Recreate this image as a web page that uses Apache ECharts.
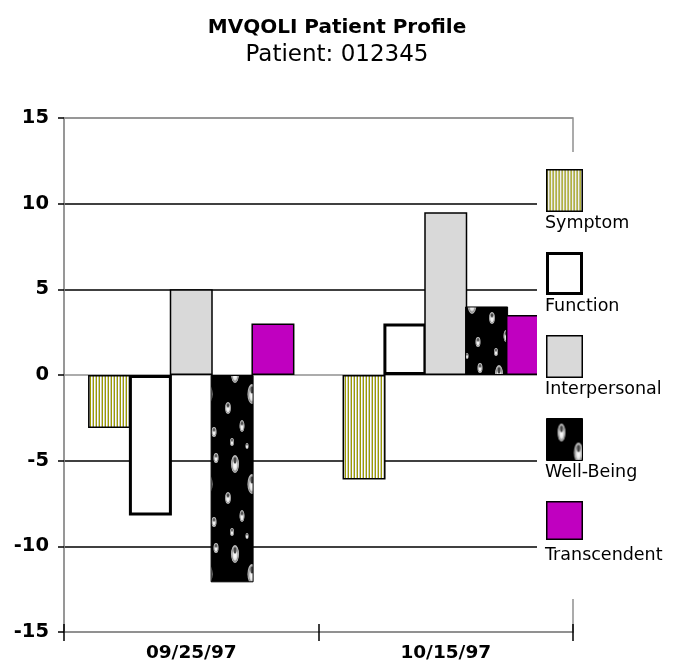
<!DOCTYPE html>
<html>
<head>
<meta charset="utf-8">
<script src="https://cdn.jsdelivr.net/npm/echarts@6/dist/echarts.min.js"></script>
<style>html,body{margin:0;padding:0;background:#fff;}#c{width:674px;height:666px;}</style>
</head>
<body>
<div id="c"></div>
<script>
const categories = ['09/25/97', '10/15/97'];
const seriesNames = ['Symptom', 'Function', 'Interpersonal', 'Well-Being', 'Transcendent'];
const symptom = [-3.1, -6.1];
const functionVals = [-8.2, 3.0];
const interpersonal = [5.0, 9.5];
const wellBeing = [-12.1, 4.0];
const transcendent = [3.0, 3.5];
const yTicks = [-15, -10, -5, 0, 5, 10, 15];

const FONT = '"DejaVu Sans", Verdana, sans-serif';

function stripePattern() {
  const c = document.createElement('canvas');
  c.width = 3; c.height = 4;
  const g = c.getContext('2d');
  g.fillStyle = '#9c9c00'; g.fillRect(0, 0, 1, 4);
  g.fillStyle = '#ffffff'; g.fillRect(1, 0, 1, 4);
  g.fillStyle = '#c8c8b8'; g.fillRect(2, 0, 1, 4);
  return { image: c, repeat: 'repeat' };
}
function bubblePattern() {
  const c = document.createElement('canvas');
  c.width = 44; c.height = 90;
  const g = c.getContext('2d');
  g.fillStyle = '#000'; g.fillRect(0, 0, 44, 90);
  const bubbles = [[15, 14, 4, 9], [32, 34, 4.5, 10], [8, 48, 3, 6], [22, 66, 2.5, 6], [38, 72, 2.5, 5], [12, 82, 2, 4], [40, 8, 2.5, 5], [27, 86, 1.5, 3]];
  bubbles.forEach(b => {
    const [x, y, rx, ry] = b;
    g.save();
    g.translate(x, y);
    g.scale(rx / ry, 1);
    const grd = g.createRadialGradient(0, ry * 0.25, 0, 0, 0, ry);
    grd.addColorStop(0, '#ffffff');
    grd.addColorStop(0.5, '#e0e0e0');
    grd.addColorStop(0.75, '#909090');
    grd.addColorStop(1, 'rgba(230,230,230,0.9)');
    g.fillStyle = grd;
    g.beginPath(); g.arc(0, 0, ry, 0, Math.PI * 2); g.fill();
    g.fillStyle = '#444';
    g.beginPath(); g.arc(0, -ry * 0.4, ry * 0.35, 0, Math.PI * 2); g.fill();
    g.restore();
  });
  return { image: c, repeat: 'repeat' };
}

const fills = [stripePattern(), '#ffffff', '#d9d9d9', bubblePattern(), '#c000c0'];
const borders = [1.5, 3, 1.5, 1, 1.5];
const dataArrays = [symptom, functionVals, interpersonal, wellBeing, transcendent];

const series = seriesNames.map((name, i) => ({
  name: name,
  type: 'bar',
  data: dataArrays[i],
  barWidth: 43,
  barGap: '-5%',
  itemStyle: { color: fills[i], borderColor: '#000', borderWidth: borders[i] },
  emphasis: { disabled: true },
  animation: false
}));

// legend drawn as graphics built from seriesNames
const legendGraphics = [{
  type: 'rect', left: 537, top: 152, z: 100,
  shape: { width: 137, height: 447 },
  style: { fill: '#ffffff' }
}];
seriesNames.forEach((name, i) => {
  const top = 169 + i * 83;
  const bw = borders[i];
  legendGraphics.push({
    type: 'rect', z: 101,
    x: 546 + bw / 2, y: top + bw / 2,
    shape: { width: 37 - bw, height: (i === 4 ? 39 : 43) - bw },
    style: { fill: fills[i], stroke: '#000', lineWidth: bw }
  });
  legendGraphics.push({
    type: 'text', z: 101,
    x: 545, y: top + 54,
    style: { text: name, font: '17.5px ' + FONT, fill: '#000', textVerticalAlign: 'middle', verticalAlign: 'middle' }
  });
});

const chart = echarts.init(document.getElementById('c'), null, { renderer: 'canvas' });
chart.setOption({
  animation: false,
  backgroundColor: '#fff',
  title: {
    text: 'MVQOLI Patient Profile',
    subtext: 'Patient: 012345',
    left: 'center',
    top: 13,
    itemGap: 6,
    textStyle: { fontFamily: FONT, fontWeight: 'bold', fontSize: 20, color: '#000' },
    subtextStyle: { fontFamily: FONT, fontSize: 23, color: '#000' }
  },
  grid: { left: 64, right: 101, top: 118, bottom: 34, show: true, borderColor: '#909090', borderWidth: 1.5 },
  xAxis: [{
    type: 'category',
    data: categories,
    position: 'bottom',
    axisLine: { show: true, onZero: false, lineStyle: { color: '#909090', width: 1.5 } },
    axisTick: { show: true, length: 9, lineStyle: { color: '#000', width: 1.5 } },
    axisLabel: { fontFamily: FONT, fontWeight: 'bold', fontSize: 18.5, color: '#000', margin: 12 },
    splitLine: { show: false }
  }, {
    type: 'category',
    data: categories,
    position: 'bottom',
    axisLine: { show: false, onZero: false },
    axisTick: { show: true, inside: true, length: 8, lineStyle: { color: '#000', width: 1.5 } },
    axisLabel: { show: false },
    splitLine: { show: false }
  }],
  yAxis: {
    type: 'value',
    min: yTicks[0],
    max: yTicks[yTicks.length - 1],
    interval: 5,
    axisLine: { show: true, lineStyle: { color: '#909090', width: 1.5 } },
    axisTick: { show: true, length: 6, lineStyle: { color: '#000', width: 1.5 } },
    axisLabel: { fontFamily: FONT, fontWeight: 'bold', fontSize: 19.5, color: '#000', margin: 15 },
    splitLine: { show: true, lineStyle: { color: ['#909090', '#000', '#000', '#909090', '#000', '#000', '#909090'], width: 1.5 } }
  },
  series: series,
  graphic: legendGraphics
});
</script>
</body>
</html>
